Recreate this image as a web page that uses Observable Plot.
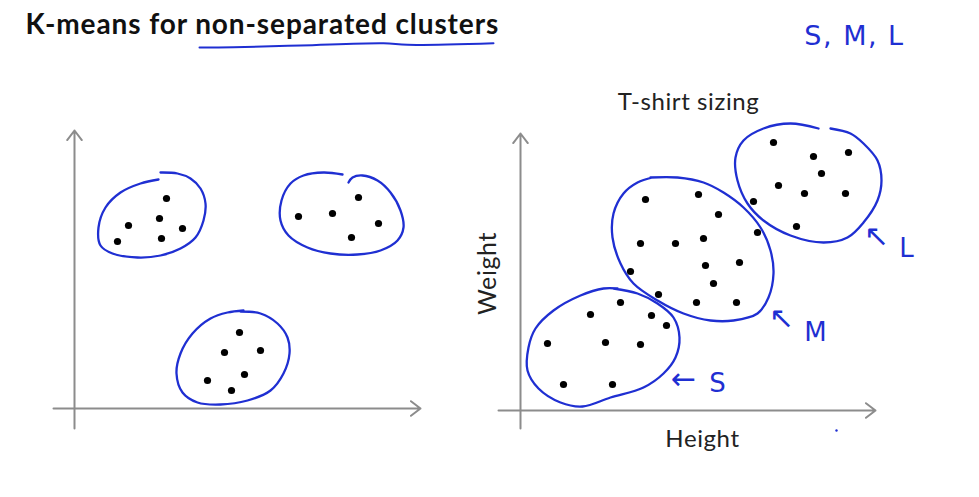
<!DOCTYPE html>
<html>
<head>
<meta charset="utf-8">
<script src="https://cdn.jsdelivr.net/npm/d3@7"></script>
<script src="https://cdn.jsdelivr.net/npm/@observablehq/plot@0.6"></script>
<style>
  html, body { margin: 0; padding: 0; background: #fff; }
  .title text { letter-spacing: 0.9px; }
  .axislabel text { letter-spacing: 0.6px; }
  .hand text { letter-spacing: 1.5px; }
</style>
</head>
<body>
<div id="chart"></div>
<script>
// ---------- Data (in slide units) ----------
const titleText = "K-means for non-separated clusters";
const panelTitle = "T-shirt sizing";
const xLabel = "Height";
const yLabel = "Weight";
const sizeNote = "S, M, L";

// hand-drawn underline under "non-separated clusters"
const underline = [[199,47],[233,46.7],[300,45],[383,42.7],[407,44.3],[493,42.7]];

// axis arrows for both panels
const axisArrows = [
  {x1: 74,  y1: 428, x2: 74,  y2: 130},
  {x1: 53,  y1: 408, x2: 420, y2: 408},
  {x1: 520, y1: 428, x2: 520, y2: 133},
  {x1: 498, y1: 410, x2: 875, y2: 410}
];

// left panel: well separated clusters
const leftA = [[166,198],[128,225],[159,218],[182,228],[117,241],[161,238]];
const leftB = [[298,216],[332,213],[358,197],[378,223],[351,237]];
const leftC = [[239,332],[224,352],[260,350],[244,374],[207,380],[231,390]];

// right panel: T-shirt sizing (Height vs Weight)
const shirtL = [[773,142],[813,156],[848,152],[821,173],[778,185],[804,193],[845,193],[753,201],[796,226]];
const shirtM = [[645,199],[698,194],[718,214],[757,232],[640,243],[675,243],[703,238],[705,265],[739,262],[630,271],[713,283],[658,294],[696,302],[736,302]];
const shirtS = [[620,302],[590,314],[651,315],[666,325],[547,343],[605,342],[640,344],[563,384],[612,384]];

// hand-drawn cluster outlines
const outlineLeftA = [[158,179],[140,183],[120,192],[105,207],[98,227],[100,245],[112,253],[137,257],[160,255],[180,248],[195,237],[203,220],[205,203],[200,188],[190,178],[177,173],[160,172]];
const outlineLeftB = [[342,174],[323,172],[303,175],[290,183],[281,200],[280,220],[288,235],[307,247],[330,253],[357,254],[380,250],[397,240],[403,227],[400,210],[390,192],[377,180],[362,175],[352,177],[348,182]];
const outlineLeftC = [[240,311],[260,313],[277,323],[287,337],[289,353],[283,373],[270,390],[247,400],[220,404],[197,402],[182,392],[176,373],[180,353],[192,333],[210,318],[227,312],[243,310]];
const outlineL = [[818,128],[790,123],[763,128],[743,140],[735,157],[737,180],[747,203],[763,220],[790,235],[823,242],[847,237],[863,222],[877,200],[881,180],[877,160],[863,143],[850,133],[830,128]];
const outlineM = [[650,177],[677,177],[703,182],[723,192],[743,207],[760,227],[770,250],[773,273],[768,297],[757,313],[733,320],[710,320],[683,313],[657,300],[633,283],[620,263],[612,237],[613,213],[623,193],[637,182],[652,177]];
const outlineS = [[613,288],[637,293],[657,303],[673,317],[679,337],[675,357],[663,373],[643,387],[610,397],[582,406],[560,402],[538,388],[527,370],[528,347],[535,328],[553,310],[580,295],[603,288],[617,288]];

// handwritten size labels
const sizeLabels = [
  {arrow: "↖", ax: 876, ay: 236, letter: "L", lx: 906, ly: 248},
  {arrow: "↖", ax: 781, ay: 318, letter: "M", lx: 815, ly: 332},
  {arrow: "←", ax: 683, ay: 379, letter: "S", lx: 717, ly: 383}
];
const penMarks = [[836,430]];

// ---------- Build ----------
const blue = "#1f2fd2";
const gray = "#8c8c8c";
const pts = (arr) => arr.map(([x, y]) => ({x, y}));
const dots = [...leftA, ...leftB, ...leftC, ...shirtL, ...shirtM, ...shirtS].map(([x, y]) => ({x, y}));
const outlines = [outlineLeftA, outlineLeftB, outlineLeftC, outlineL, outlineM, outlineS];

const marks = [
  Plot.text([titleText], {x: 25, y: 25, text: d => d, textAnchor: "start", fontSize: 28, fontWeight: "bold", fill: "#111", fontFamily: "Lato", className: "title"}),
  Plot.line(pts(underline), {x: "x", y: "y", curve: "catmull-rom", stroke: blue, strokeWidth: 2}),
  Plot.text([sizeNote], {x: 854, y: 36, text: d => d, fontSize: 27, fill: blue, fontFamily: "DejaVu Sans", className: "hand"}),
  Plot.arrow(axisArrows, {x1: "x1", y1: "y1", x2: "x2", y2: "y2", stroke: gray, strokeWidth: 2, headLength: 9, headAngle: 75}),
  ...outlines.map(o => Plot.line(pts(o), {x: "x", y: "y", curve: "catmull-rom", stroke: blue, strokeWidth: 2.3})),
  Plot.dot(dots, {x: "x", y: "y", r: 3.6, fill: "black"}),
  Plot.text([panelTitle], {x: 688, y: 102, text: d => d, fontSize: 24, fill: "#222", fontFamily: "Lato", className: "axislabel"}),
  Plot.text([xLabel], {x: 702, y: 439, text: d => d, fontSize: 24, fill: "#222", fontFamily: "Lato", className: "axislabel"}),
  Plot.text([yLabel], {x: 487, y: 273, text: d => d, rotate: -90, fontSize: 25, fill: "#222", fontFamily: "Lato", className: "axislabel"}),
  Plot.text(sizeLabels, {x: "ax", y: "ay", text: "arrow", fontSize: 30, fill: blue, fontFamily: "DejaVu Sans"}),
  Plot.text(sizeLabels, {x: "lx", y: "ly", text: "letter", fontSize: 26, fill: blue, fontFamily: "DejaVu Sans"}),
  Plot.dot(pts(penMarks), {x: "x", y: "y", r: 1.2, fill: blue})
];

const chart = Plot.plot({
  width: 979,
  height: 497,
  margin: 0,
  x: {domain: [0, 979], range: [0, 979], axis: null},
  y: {domain: [0, 497], range: [0, 497], axis: null},
  style: {background: "white", overflow: "visible"},
  marks
});
document.getElementById("chart").append(chart);
</script>
</body>
</html>
